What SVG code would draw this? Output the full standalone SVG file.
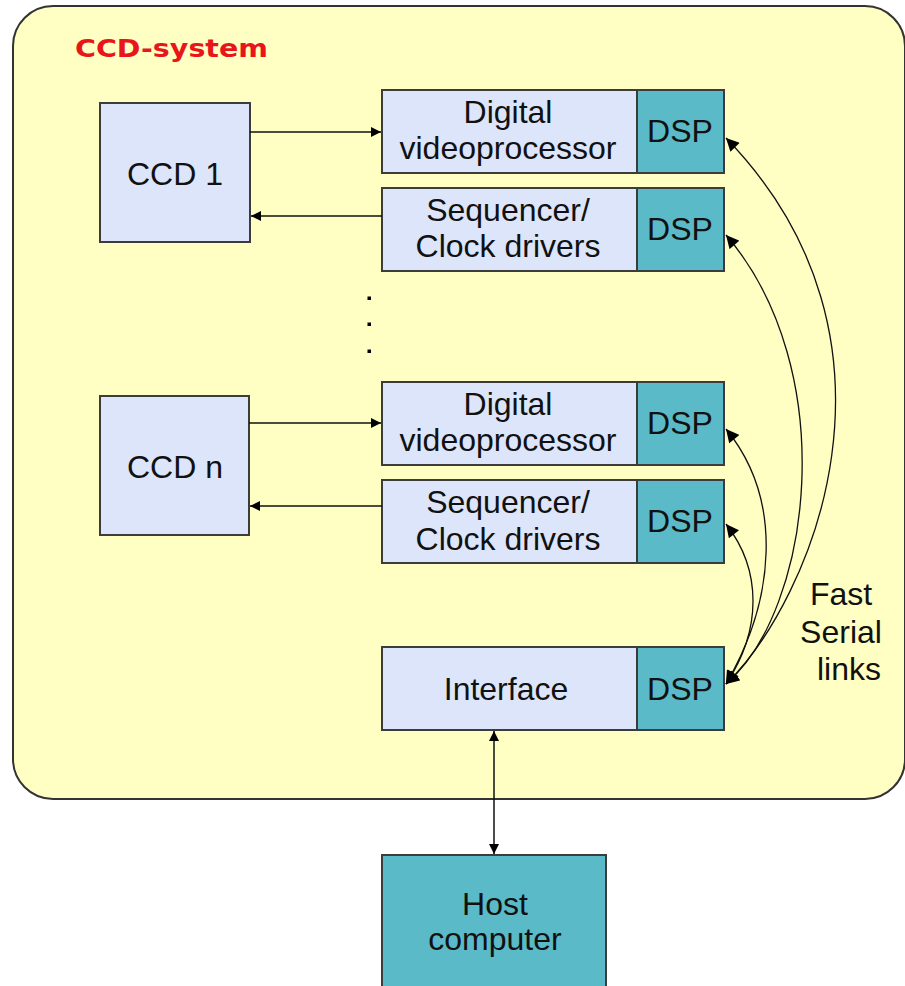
<svg xmlns="http://www.w3.org/2000/svg" width="905" height="986" viewBox="0 0 905 986">
  <style>
    .frame { fill: #FFFFC3; stroke: #333333; stroke-width: 2; }
    .box { fill: #DCE5FA; stroke: #3C3C3C; stroke-width: 2; }
    .dsp { fill: #5BBAC8; stroke: #3C3C3C; stroke-width: 2; }
    .lbl { font-family: "Liberation Sans", Arial, sans-serif; font-size: 32px; fill: #111111; text-anchor: middle; }
    .title { font-family: "DejaVu Sans", "Liberation Sans", sans-serif; font-weight: bold; font-size: 25px; fill: #E8151B; }
    .wire { fill: none; stroke: #111111; stroke-width: 1.5; }
    .link { fill: none; stroke: #111111; stroke-width: 1.3; }
  </style>
  <defs>
    <marker id="tip" viewBox="0 0 10 10" refX="10" refY="5" markerWidth="10" markerHeight="10" markerUnits="userSpaceOnUse" orient="auto-start-reverse">
      <path d="M0 0 L10 5 L0 10 Z" fill="#000000"/>
    </marker>
    <marker id="tipBig" viewBox="0 0 10 10" refX="10" refY="5" markerWidth="14" markerHeight="13" markerUnits="userSpaceOnUse" orient="auto-start-reverse">
      <path d="M0 0 L10 5 L0 10 Z" fill="#000000"/>
    </marker>
  </defs>

  <!-- system enclosure -->
  <g id="ccd-system">
    <rect class="frame" x="13" y="6" width="892" height="793" rx="40" ry="40"/>
    <text class="title" x="75" y="57" textLength="193" lengthAdjust="spacingAndGlyphs">CCD-system</text>
  </g>

  <g id="ccd1">
    <rect class="box" x="100" y="103" width="150" height="139"/>
    <text class="lbl" x="175" y="185">CCD 1</text>
  </g>

  <g id="videoproc1">
    <rect class="box" x="382" y="90" width="255" height="83"/>
    <text class="lbl" x="508" y="123">Digital</text>
    <text class="lbl" x="508" y="159">videoprocessor</text>
    <rect class="dsp" x="637" y="90" width="87" height="83"/>
    <text class="lbl" x="680" y="142">DSP</text>
  </g>

  <g id="sequencer1">
    <rect class="box" x="382" y="188" width="255" height="83"/>
    <text class="lbl" x="508" y="221">Sequencer/</text>
    <text class="lbl" x="508" y="257">Clock drivers</text>
    <rect class="dsp" x="637" y="188" width="87" height="83"/>
    <text class="lbl" x="680" y="240">DSP</text>
  </g>

  <g id="ellipsis">
    <rect x="367.5" y="296.5" width="3.5" height="3.5" fill="#000000"/>
    <rect x="367.5" y="322.5" width="3.5" height="3.5" fill="#000000"/>
    <rect x="367.5" y="349.5" width="3.5" height="3.5" fill="#000000"/>
  </g>

  <g id="ccdn">
    <rect class="box" x="100" y="396" width="149" height="139"/>
    <text class="lbl" x="175" y="478">CCD n</text>
  </g>

  <g id="videoproc2">
    <rect class="box" x="382" y="382" width="255" height="83"/>
    <text class="lbl" x="508" y="415">Digital</text>
    <text class="lbl" x="508" y="451">videoprocessor</text>
    <rect class="dsp" x="637" y="382" width="87" height="83"/>
    <text class="lbl" x="680" y="434">DSP</text>
  </g>

  <g id="sequencer2">
    <rect class="box" x="382" y="480" width="255" height="83"/>
    <text class="lbl" x="508" y="513">Sequencer/</text>
    <text class="lbl" x="508" y="550">Clock drivers</text>
    <rect class="dsp" x="637" y="480" width="87" height="83"/>
    <text class="lbl" x="680" y="532">DSP</text>
  </g>

  <g id="interface">
    <rect class="box" x="382" y="647" width="255" height="83"/>
    <text class="lbl" x="506" y="700">Interface</text>
    <rect class="dsp" x="637" y="647" width="87" height="83"/>
    <text class="lbl" x="680" y="700">DSP</text>
  </g>

  <g id="host">
    <rect class="dsp" x="382" y="855" width="224" height="140"/>
    <text class="lbl" x="495" y="915">Host</text>
    <text class="lbl" x="495" y="950">computer</text>
  </g>

  <g id="links-label">
    <text class="lbl" x="841" y="605">Fast</text>
    <text class="lbl" x="841" y="643">Serial</text>
    <text class="lbl" x="849" y="680">links</text>
  </g>

  <!-- connectors -->
  <g id="connectors">
    <path class="wire" d="M250 132 H381" marker-end="url(#tip)"/>
    <path class="wire" d="M382 216 H251" marker-end="url(#tip)"/>
    <path class="wire" d="M249 423 H381" marker-end="url(#tip)"/>
    <path class="wire" d="M382 506 H250" marker-end="url(#tip)"/>
    <path class="wire" d="M494 731 V854" marker-start="url(#tip)" marker-end="url(#tip)"/>

    <path class="link" d="M726 684 C 812 600, 922 340, 726 138" marker-start="url(#tipBig)" marker-end="url(#tipBig)"/>
    <path class="link" d="M726 684 C 812 610, 842 370, 726 235" marker-start="url(#tipBig)" marker-end="url(#tipBig)"/>
    <path class="link" d="M726 684 C 775 600, 784 500, 726 429" marker-start="url(#tipBig)" marker-end="url(#tipBig)"/>
    <path class="link" d="M726 684 C 762 630, 762 570, 726 524" marker-start="url(#tipBig)" marker-end="url(#tipBig)"/>
  </g>
</svg>
